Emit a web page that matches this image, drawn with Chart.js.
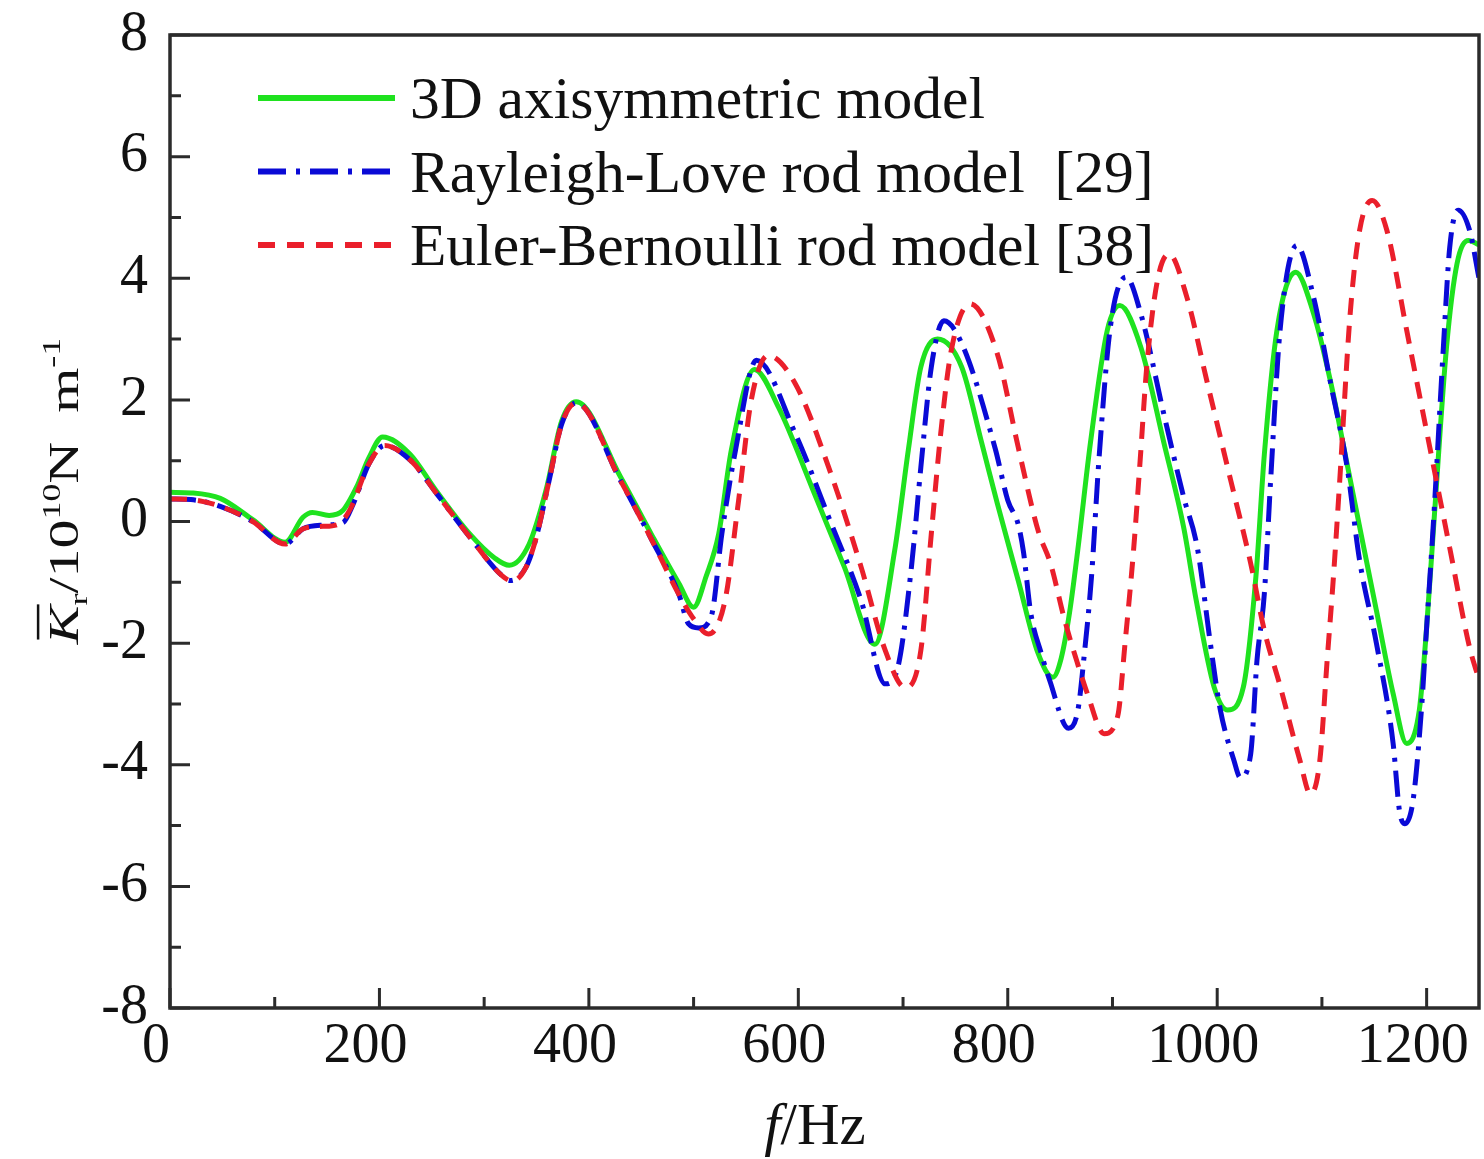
<!DOCTYPE html>
<html>
<head>
<meta charset="utf-8">
<script src="https://cdn.jsdelivr.net/npm/chart.js@4.4.1/dist/chart.umd.min.js"></script>
<style>
html,body{margin:0;padding:0;background:#ffffff;}
#wrap{position:relative;width:1484px;height:1159px;}
</style>
</head>
<body>
<div id="wrap"><canvas id="c" width="1484" height="1159"></canvas></div>
<script>
// ---- data ----
const seriesLabels = ["3D axisymmetric model", "Rayleigh-Love rod model  [29]", "Euler-Bernoulli rod model [38]"];

const f3D = [0,20,48,79,110,127,136,152,165,178,190,203,229,254,286,310,324,343,359,374,388,430,460,486,500,512,524,536,558,581,613,644,673,692,705,717,733,756,775,790,810,829,843,851,859,867,879,895,907,927,949,968,980,997,1010,1025,1037,1045,1057,1075,1092,1108,1124,1140,1152,1168,1181,1193,1200,1207,1219,1229,1240,1250];
const k3D = [0.48,0.47,0.38,0.03,-0.34,0.07,0.15,0.10,0.18,0.56,1.05,1.39,1.11,0.51,-0.20,-0.60,-0.72,-0.37,0.51,1.65,1.97,0.74,-0.22,-1.02,-1.41,-0.90,-0.20,1.17,2.50,1.88,0.56,-0.75,-2.02,-0.48,1.17,2.54,3.00,2.54,1.30,0.30,-0.97,-2.17,-2.56,-2.25,-1.50,-0.45,1.30,3.14,3.55,2.87,1.30,-0.10,-1.30,-2.72,-3.10,-2.72,-0.90,1.10,3.14,4.10,3.42,2.32,0.95,-0.43,-1.46,-2.83,-3.65,-3.10,-1.74,0.00,2.87,4.24,4.62,4.55];

const fRL = [0,20,48,79,110,127,146,165,175,190,205,230,255,286,317,325,340,349,362,374,388,430,460,486,495,505,517,527,540,560,597,629,660,683,695,708,717,727,739,756,788,800,810,815,822,832,840,858,867,873,880,887,898,913,927,949,968,981,994,1003,1016,1022,1032,1038,1045,1051,1060,1076,1092,1108,1124,1136,1152,1168,1174,1179,1187,1195,1200,1207,1216,1222,1230,1241,1250];
const kRL = [0.37,0.36,0.25,0.00,-0.37,-0.12,-0.06,-0.02,0.29,0.95,1.25,1.00,0.45,-0.25,-0.89,-0.97,-0.75,-0.31,0.67,1.60,1.95,0.68,-0.30,-1.20,-1.68,-1.75,-1.55,-0.20,1.17,2.65,1.45,0.07,-1.30,-2.67,-2.40,-0.75,0.89,2.54,3.30,2.93,1.20,0.35,-0.05,-0.50,-1.51,-2.17,-2.61,-3.40,-3.10,-2.20,-0.90,1.00,3.20,4.02,3.42,1.77,0.40,-0.43,-2.07,-3.10,-3.93,-4.21,-3.82,-2.28,-1.19,0.67,3.14,4.54,3.69,2.30,0.90,-0.64,-2.00,-3.65,-4.75,-4.97,-4.59,-3.10,-1.74,0.13,2.87,4.50,5.12,4.79,4.00];

const fEB = [0,20,48,79,110,127,146,160,172,190,205,230,255,286,317,327,340,349,362,374,388,430,460,486,500,514,530,543,555,571,597,629,660,683,702,717,727,736,746,764,790,810,829,841,854,866,876,892,905,912,920,926,933,943,954,971,990,1013,1032,1045,1060,1079,1089,1098,1105,1111,1117,1127,1136,1148,1162,1181,1203,1222,1241,1250];
const kEB = [0.37,0.36,0.25,0.00,-0.37,-0.12,-0.08,-0.05,0.20,0.95,1.25,1.00,0.45,-0.25,-0.89,-0.98,-0.75,-0.31,0.67,1.60,1.95,0.68,-0.30,-1.20,-1.60,-1.85,-1.30,0.35,1.99,2.73,2.27,0.89,-0.75,-2.12,-2.73,-2.12,-0.20,1.45,2.81,3.58,2.76,1.22,-0.15,-0.70,-1.60,-2.30,-2.83,-3.49,-3.20,-2.00,-0.50,0.90,2.60,3.97,4.40,3.69,2.32,0.67,-0.69,-1.79,-2.70,-3.93,-4.48,-3.93,-2.28,-0.91,0.67,3.42,4.79,5.28,4.79,3.14,1.22,-0.43,-2.07,-2.60];

const xTicks = [0,200,400,600,800,1000,1200];
const xMinorTicks = [100,300,500,700,900,1100];
const yTicks = [-8,-6,-4,-2,0,2,4,6,8];
const yMinorTicks = [-7,-5,-3,-1,1,3,5,7];

// ---- helpers ----
function pairs(xs, ys){
  const n = Math.min(xs.length, ys.length);
  const out = [];
  for (let i = 0; i < n; i++) out.push({x: xs[i], y: ys[i]});
  return out;
}
const SERIF = "'Liberation Serif', 'Times New Roman', serif";

function zeroPad(s){
  s.paddingTop = 0; s.paddingBottom = 0; s.paddingLeft = 0; s.paddingRight = 0;
}

const decorPlugin = {
  id: 'decor',
  afterDraw(chart){
    const ctx = chart.ctx;
    const a = chart.chartArea;
    const xs = chart.scales.x, ys = chart.scales.y;
    ctx.save();
    // frame
    ctx.strokeStyle = '#2b2b2b';
    ctx.lineWidth = 3.5;
    ctx.setLineDash([]);
    ctx.strokeRect(a.left, a.top, a.right - a.left, a.bottom - a.top);
    // ticks (inward)
    ctx.lineWidth = 3;
    ctx.beginPath();
    xTicks.forEach(v => { const p = xs.getPixelForValue(v); ctx.moveTo(p, a.bottom); ctx.lineTo(p, a.bottom - 20); });
    xMinorTicks.forEach(v => { const p = xs.getPixelForValue(v); ctx.moveTo(p, a.bottom); ctx.lineTo(p, a.bottom - 11); });
    yTicks.forEach(v => { const p = ys.getPixelForValue(v); ctx.moveTo(a.left, p); ctx.lineTo(a.left + 20, p); });
    yMinorTicks.forEach(v => { const p = ys.getPixelForValue(v); ctx.moveTo(a.left, p); ctx.lineTo(a.left + 11, p); });
    ctx.stroke();

    // legend
    chart.data.datasets.forEach((ds, i) => {
      const y = 98 + i * 73.5;
      ctx.save();
      ctx.strokeStyle = ds.borderColor;
      ctx.lineWidth = 6;
      ctx.setLineDash(ds.legendDash || []);
      ctx.beginPath();
      ctx.moveTo(258, y);
      ctx.lineTo(395, y);
      ctx.stroke();
      ctx.restore();
      ctx.fillStyle = '#111';
      ctx.font = '59.5px ' + SERIF;
      ctx.textBaseline = 'alphabetic';
      ctx.textAlign = 'left';
      ctx.fillText(ds.label, 410, y + 20);
    });

    // x title: f/Hz
    drawRich(ctx, [
      {t:'f', s:1, dy:0, it:true},
      {t:'/Hz', s:1, dy:0}
    ], 59, 815, 1144);

    // y title (rotated)
    ctx.save();
    ctx.translate(78, 491);
    ctx.rotate(-Math.PI/2);
    ctx.scale(1.38, 1);
    drawRich(ctx, [
      {t:'K', s:1, dy:0, it:true, over:true},
      {t:'r', s:0.62, dy:0.22},
      {t:'/10', s:1, dy:0},
      {t:'10', s:0.62, dy:-0.42},
      {t:'N  m', s:1, dy:0},
      {t:'-1', s:0.62, dy:-0.42}
    ], 42, 0, 0);
    ctx.restore();

    ctx.restore();
  }
};

function drawRich(ctx, parts, size, cx, baseY){
  let total = 0;
  parts.forEach(p => {
    ctx.font = (p.it ? 'italic ' : '') + Math.round(size * p.s) + 'px ' + SERIF;
    p.w = ctx.measureText(p.t).width;
    total += p.w;
  });
  let x = cx - total / 2;
  ctx.fillStyle = '#111';
  ctx.textAlign = 'left';
  ctx.textBaseline = 'alphabetic';
  parts.forEach(p => {
    ctx.font = (p.it ? 'italic ' : '') + Math.round(size * p.s) + 'px ' + SERIF;
    ctx.fillText(p.t, x, baseY + p.dy * size);
    if (p.over){
      ctx.save();
      ctx.strokeStyle = '#111';
      ctx.lineWidth = 2.5;
      ctx.beginPath();
      const oy = baseY - size * 0.95;
      ctx.moveTo(x + size*0.08, oy);
      ctx.lineTo(x + p.w + size*0.02, oy);
      ctx.stroke();
      ctx.restore();
    }
    x += p.w;
  });
}

const chart = new Chart(document.getElementById('c'), {
  type: 'line',
  data: {
    datasets: [
      {
        label: seriesLabels[0],
        data: pairs(f3D, k3D),
        borderColor: '#1fe21f',
        borderWidth: 5,
        borderDash: [],
        legendDash: [],
        order: 3
      },
      {
        label: seriesLabels[1],
        data: pairs(fRL, kRL),
        borderColor: '#0a0ad6',
        borderWidth: 5,
        borderDash: [26, 9, 4, 9],
        legendDash: [28, 10, 4, 10],
        order: 2
      },
      {
        label: seriesLabels[2],
        data: pairs(fEB, kEB),
        borderColor: '#ea1f2b',
        borderWidth: 5,
        borderDash: [17, 11],
        legendDash: [17, 12],
        order: 1
      }
    ]
  },
  options: {
    responsive: false,
    devicePixelRatio: 1,
    animation: false,
    events: [],
    layout: { padding: { left: 0, right: 5, top: 35, bottom: 0 } },
    elements: {
      point: { radius: 0 },
      line: { cubicInterpolationMode: 'monotone', fill: false }
    },
    scales: {
      x: {
        type: 'linear',
        min: 0, max: 1250,
        afterBuildTicks: s => { s.ticks = xTicks.map(v => ({value: v})); },
        afterFit: s => { s.height = 151; zeroPad(s); },
        grid: { display: false, drawTicks: false },
        border: { display: false },
        ticks: {
          font: { family: SERIF, size: 56 },
          color: '#111',
          padding: 6,
          labelOffset: -14,
          maxRotation: 0,
          autoSkip: false,
          callback: v => String(v)
        }
      },
      y: {
        type: 'linear',
        min: -8, max: 8,
        afterBuildTicks: s => { s.ticks = yTicks.map(v => ({value: v})); },
        afterFit: s => { s.width = 170; zeroPad(s); },
        grid: { display: false, drawTicks: false },
        border: { display: false },
        ticks: {
          font: { family: SERIF, size: 56 },
          color: '#111',
          padding: 22,
          autoSkip: false,
          callback: v => String(v)
        }
      }
    },
    plugins: {
      legend: { display: false },
      tooltip: { enabled: false },
      title: { display: false }
    }
  },
  plugins: [decorPlugin]
});
</script>
</body>
</html>
